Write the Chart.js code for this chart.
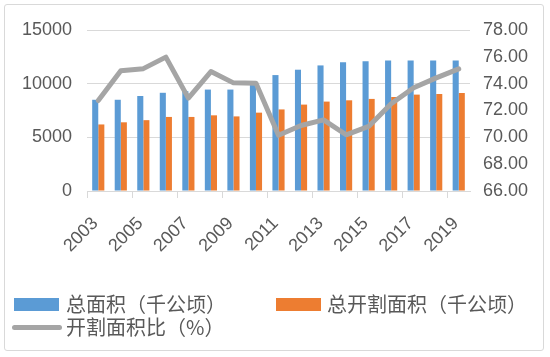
<!DOCTYPE html>
<html>
<head>
<meta charset="utf-8">
<script src="https://cdn.jsdelivr.net/npm/chart.js@4.4.1/dist/chart.umd.min.js"></script>
<style>
  html, body { margin: 0; padding: 0; background: #ffffff; }
  #wrap { position: relative; width: 550px; height: 357px; overflow: hidden; }
  #frame { position: absolute; left: 4px; top: 4px; width: 540px; height: 347px; border: 1px solid #d9d9d9; border-radius: 3px; box-sizing: border-box; }
  canvas { position: absolute; left: 0; top: 0; }
  .lg { position: absolute; font-family: "Noto Sans CJK SC", "Noto Sans", sans-serif; font-size: 20px; line-height: 20px; color: #595959; white-space: nowrap; }
  .box { position: absolute; }
</style>
</head>
<body>
<div id="wrap">
  <div id="frame"></div>
  <canvas id="c" width="550" height="357"></canvas>
  <div class="box" id="b1" style="left:14px;top:298px;width:45px;height:13px;"></div>
  <div class="lg" id="t1" style="left:66px;top:294px;"></div>
  <div class="box" id="b2" style="left:276px;top:298px;width:45px;height:13px;"></div>
  <div class="lg" id="t2" style="left:327px;top:294px;"></div>
  <div class="box" id="b3" style="left:12px;top:325px;width:50px;height:5px;border-radius:2.5px;"></div>
  <div class="lg" id="t3" style="left:66px;top:317px;"></div>
</div>
<script>
const years = ['2003','2004','2005','2006','2007','2008','2009','2010','2011','2012','2013','2014','2015','2016','2017','2018','2019'];
const totalArea = [8500, 8500, 8850, 9150, 9300, 9450, 9450, 9900, 10800, 11300, 11700, 12000, 12100, 12150, 12150, 12150, 12150];
const tappedArea = [6200, 6400, 6600, 6900, 6900, 7050, 6950, 7300, 7600, 8050, 8330, 8450, 8580, 8760, 8980, 9040, 9130];
const tappedRatio = [72.74, 74.97, 75.12, 75.98, 72.92, 74.90, 74.06, 74.04, 70.16, 70.88, 71.30, 70.19, 70.81, 72.50, 73.69, 74.43, 75.10];
const seriesNames = ['总面积（千公顷）', '总开割面积（千公顷）', '开割面积比（%）'];
const seriesColors = ['#5B9BD5', '#ED7D31', '#A5A5A5'];

document.getElementById('t1').textContent = seriesNames[0];
document.getElementById('t2').textContent = seriesNames[1];
document.getElementById('t3').textContent = seriesNames[2];
document.getElementById('b1').style.background = seriesColors[0];
document.getElementById('b2').style.background = seriesColors[1];
document.getElementById('b3').style.background = seriesColors[2];

const tickFont = { family: '"Liberation Sans", Arial, sans-serif', size: 18 };
const textColor = '#595959';
const gridColor = '#d9d9d9';

new Chart(document.getElementById('c'), {
  type: 'bar',
  data: {
    labels: years,
    datasets: [
      { type: 'bar', label: seriesNames[0], data: totalArea, backgroundColor: seriesColors[0], yAxisID: 'y', order: 1,
        categoryPercentage: 0.54, barPercentage: 1.0 },
      { type: 'bar', label: seriesNames[1], data: tappedArea, backgroundColor: seriesColors[1], yAxisID: 'y', order: 1,
        categoryPercentage: 0.54, barPercentage: 1.0 },
      { type: 'line', label: seriesNames[2], data: tappedRatio, borderColor: seriesColors[2], backgroundColor: seriesColors[2],
        borderWidth: 5, pointRadius: 0, tension: 0, yAxisID: 'y1', order: 0, borderJoinStyle: 'round', borderCapStyle: 'round' }
    ]
  },
  options: {
    responsive: false,
    animation: false,
    devicePixelRatio: 1,
    layout: { padding: { left: 0, right: 0, top: 30, bottom: 100 } },
    plugins: { legend: { display: false }, tooltip: { enabled: false } },
    scales: {
      x: {
        offset: true,
        grid: {
          offset: true, drawOnChartArea: false, drawTicks: true, tickLength: 7,
          tickColor: (ctx) => (ctx.index !== undefined && ctx.index % 2 === 0) ? gridColor : 'rgba(0,0,0,0)'
        },
        border: { display: true, color: gridColor, width: 1 },
        ticks: {
          autoSkip: false, minRotation: 45, maxRotation: 45, padding: 15, labelOffset: -3,
          color: textColor, font: tickFont,
          callback: function(v, i) { return i % 2 === 0 ? years[i] : ''; }
        },
        afterFit: (s) => { s.height = 66; }
      },
      y: {
        position: 'left', min: 0, max: 15000,
        grid: { color: gridColor, drawTicks: false },
        border: { display: false },
        ticks: { stepSize: 5000, padding: 15, color: textColor, font: tickFont,
          callback: (v) => String(v) },
        afterFit: (s) => { s.width = 87; }
      },
      y1: {
        position: 'right', min: 66, max: 78,
        grid: { display: false, drawTicks: false },
        border: { display: false },
        ticks: { stepSize: 2, padding: 13, color: textColor, font: tickFont,
          callback: (v) => Number(v).toFixed(2) },
        afterFit: (s) => { s.width = 80; }
      }
    }
  }
});
</script>
</body>
</html>
